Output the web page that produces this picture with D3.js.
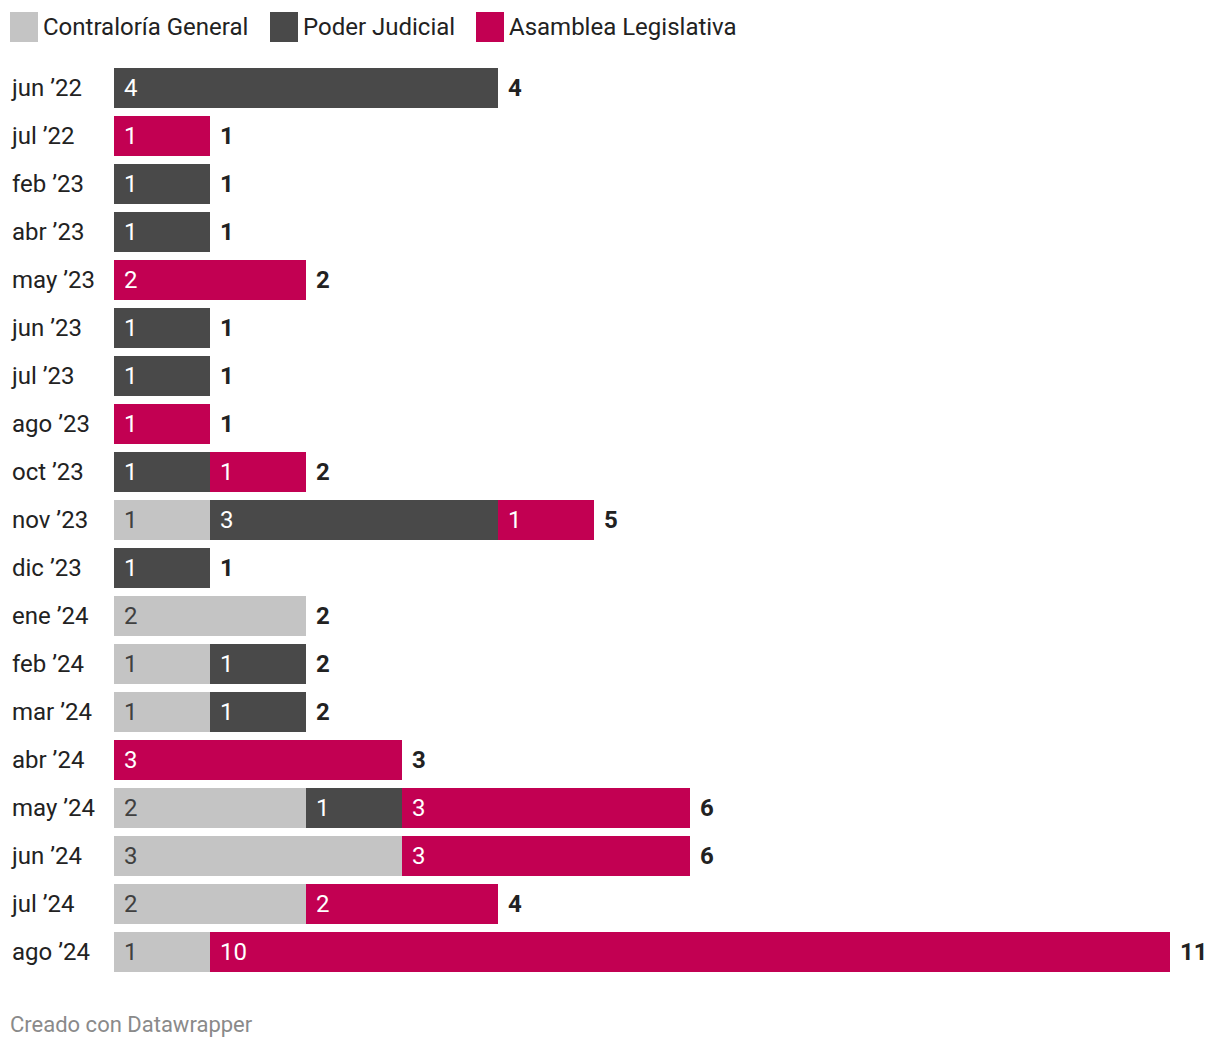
<!DOCTYPE html>
<html><head><meta charset="utf-8">
<script src="https://cdn.jsdelivr.net/npm/d3@7"></script>
<style>body{margin:0;background:#fff;font-family:Roboto,sans-serif;}</style>
</head><body>
<svg id="c" width="1220" height="1050"></svg>
<script>
const categories = ["jun ’22","jul ’22","feb ’23","abr ’23","may ’23","jun ’23","jul ’23","ago ’23","oct ’23","nov ’23","dic ’23","ene ’24","feb ’24","mar ’24","abr ’24","may ’24","jun ’24","jul ’24","ago ’24"];
const seriesNames = ["Contraloría General","Poder Judicial","Asamblea Legislativa"];
const contraloria = [0,0,0,0,0,0,0,0,0,1,0,2,1,1,0,2,3,2,1];
const poderJudicial = [4,0,1,1,0,1,1,0,1,3,1,0,1,1,0,1,0,0,0];
const asamblea = [0,1,0,0,2,0,0,1,1,1,0,0,0,0,3,3,3,2,10];
const colors = ["#c4c4c4","#494949","#c20052"];
const textColors = ["#404040","#ffffff","#ffffff"];

const svg = d3.select("#c");
const rows = categories.map((c,i)=>({cat:c, Contraloria:contraloria[i], Poder:poderJudicial[i], Asamblea:asamblea[i]}));
const keys = ["Contraloria","Poder","Asamblea"];
const stack = d3.stack().keys(keys)(rows);

const x = d3.scaleLinear().domain([0,11]).range([114,1170]);
const y = d3.scaleBand().domain(categories).range([64,976]).paddingInner(1/6).paddingOuter(1/12);

// legend
const legendX = [10,270,476];
seriesNames.forEach((n,i)=>{
  const g = svg.append("g");
  g.append("rect").attr("x",legendX[i]).attr("y",12).attr("width",28).attr("height",30).attr("fill",colors[i]);
  g.append("text").attr("x",legendX[i]+33).attr("y",26).attr("dy","0.36em").attr("font-size",24).attr("fill","#222").text(n);
});

// row labels
svg.append("g").selectAll("text").data(categories).join("text")
  .attr("x",12).attr("y",d=>y(d)+y.bandwidth()/2-1).attr("dy","0.36em")
  .attr("font-size",24).attr("fill","#222").text(d=>d);

// bars
stack.forEach((s,si)=>{
  const g = svg.append("g");
  s.forEach((d,i)=>{
    const v = d[1]-d[0];
    if(v<=0) return;
    g.append("rect").attr("x",x(d[0])).attr("y",y(categories[i])).attr("width",x(d[1])-x(d[0])).attr("height",y.bandwidth()).attr("fill",colors[si]);
    g.append("text").attr("x",x(d[0])+10).attr("y",y(categories[i])+y.bandwidth()/2-1).attr("dy","0.36em")
      .attr("font-size",24).attr("fill",textColors[si]).text(v);
  });
});

// totals
svg.append("g").selectAll("text").data(rows).join("text")
  .attr("x",d=>x(d.Contraloria+d.Poder+d.Asamblea)+10)
  .attr("y",d=>y(d.cat)+y.bandwidth()/2-1).attr("dy","0.36em")
  .attr("font-size",24).attr("font-weight","bold").attr("fill","#222")
  .text(d=>d.Contraloria+d.Poder+d.Asamblea);

svg.append("text").attr("x",10).attr("y",1024).attr("dy","0.36em").attr("font-size",22).attr("fill","#8a8a8a").text("Creado con Datawrapper");
</script>
</body></html>
